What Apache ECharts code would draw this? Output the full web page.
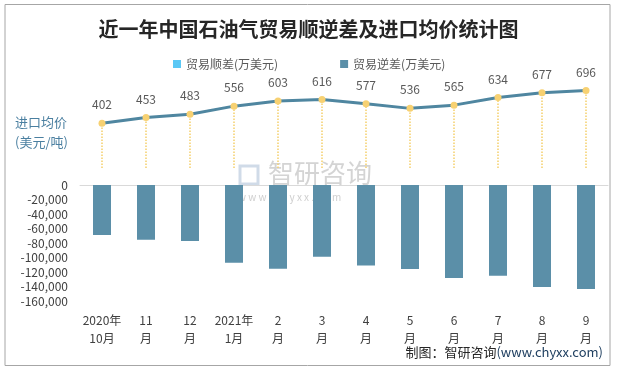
<!DOCTYPE html>
<html><head><meta charset="utf-8">
<script src="https://cdn.jsdelivr.net/npm/echarts@6/dist/echarts.min.js"></script>
<style>html,body{margin:0;padding:0;background:#fff}#c{width:617px;height:370px}</style>
</head><body><div id="c"></div>
<script>
const categories = ['2020年\n10月','11\n月','12\n月','2021年\n1月','2\n月','3\n月','4\n月','5\n月','6\n月','7\n月','8\n月','9\n月'];
const surplus = [null,null,null,null,null,null,null,null,null,null,null,null];
const deficit = [-69000,-75400,-77200,-107100,-115400,-98800,-111200,-115800,-128300,-125000,-140700,-143400];
const avgPrice = [402,453,483,556,603,616,577,536,565,634,677,696];

const FONT = '"Noto Sans CJK SC","Microsoft YaHei",sans-serif';
const chart = echarts.init(document.getElementById('c'));
chart.setOption({
  animation:false,
  textStyle:{fontFamily:FONT},
  title:{text:'近一年中国石油气贸易顺逆差及进口均价统计图',left:'center',top:14,
    textStyle:{fontSize:20,fontWeight:'bold',color:'#262626',fontFamily:FONT}},
  legend:{top:53,left:168,itemWidth:8,itemHeight:8,itemGap:62,icon:'rect',
    textStyle:{fontSize:12,color:'#595959'},data:['贸易顺差(万美元)','贸易逆差(万美元)']},
  grid:[
    {left:80,right:9,top:79,height:89},
    {left:80,right:9,top:185,height:116}
  ],
  xAxis:[
    {type:'category',gridIndex:0,data:categories,show:false},
    {type:'category',gridIndex:1,data:categories,position:'bottom',
      axisLine:{show:false,onZero:false},axisTick:{show:false},
      axisLabel:{interval:0,margin:10,lineHeight:18,fontSize:12,color:'#404040'}},
    {type:'category',gridIndex:1,data:categories,position:'top',
      axisLine:{show:true,onZero:false,lineStyle:{color:'#d9d9d9'}},axisTick:{show:false},axisLabel:{show:false}}
  ],
  yAxis:[
    {type:'value',gridIndex:0,min:0,max:800,show:false},
    {type:'value',gridIndex:1,min:-160000,max:0,interval:20000,
      axisLine:{show:false},axisTick:{show:false},splitLine:{show:false},
      axisLabel:{fontSize:12,color:'#404040',margin:12,
        formatter:v=>v.toLocaleString('en-US')}}
  ],
  series:[
    {name:'贸易顺差(万美元)',type:'bar',xAxisIndex:1,yAxisIndex:1,stack:'t',data:surplus,
      itemStyle:{color:'#5bc8f5'},barWidth:18},
    {name:'贸易逆差(万美元)',type:'bar',xAxisIndex:1,yAxisIndex:1,stack:'t',data:deficit,
      itemStyle:{color:'#5b8fa8'},barWidth:18},
    {name:'进口均价',type:'line',xAxisIndex:0,yAxisIndex:0,data:avgPrice,
      symbol:'circle',symbolSize:7,z:5,
      lineStyle:{color:'#4f86a0',width:3},
      itemStyle:{color:'#f7d172'},
      label:{show:true,position:'top',distance:9,fontSize:12,color:'#595959'},
      markLine:{silent:true,symbol:'none',label:{show:false},
        lineStyle:{type:'dotted',color:'#f5cf6b',width:1.5},
        data:avgPrice.map((v,i)=>[{coord:[i,0]},{coord:[i,v]}])}
    }
  ],
  graphic:[
    {type:'rect',shape:{x:5,y:4.5,width:605,height:361},style:{fill:null,stroke:'#a6a6a6',lineWidth:1},silent:true},
    {type:'text',left:15,top:112,style:{text:'进口均价\n(美元/吨)',fontSize:13,lineHeight:20,fill:'#4a7fa0',fontFamily:FONT}},
    {type:'rect',z:-1,shape:{x:240,y:166,width:18,height:18},style:{fill:null,stroke:'rgba(150,175,205,0.45)',lineWidth:3}},
    {type:'text',left:268,top:160,z:-1,style:{text:'智研咨询',fontSize:26,fill:'rgba(160,160,160,0.45)',fontFamily:FONT}},
    {type:'text',left:238,top:192,z:-1,style:{text:'w w w . c h y x x . c o m',fontSize:10,fill:'rgba(160,160,160,0.5)',fontFamily:FONT}},
    {type:'text',right:14,top:346,style:{rich:{a:{fontSize:13,fill:'#262626',fontFamily:FONT},b:{fontSize:13,fill:'#1f3f60',fontFamily:FONT}},
      text:'{a|制图：智研咨询}{b|(www.chyxx.com)}'}}
  ]
});
</script></body></html>
